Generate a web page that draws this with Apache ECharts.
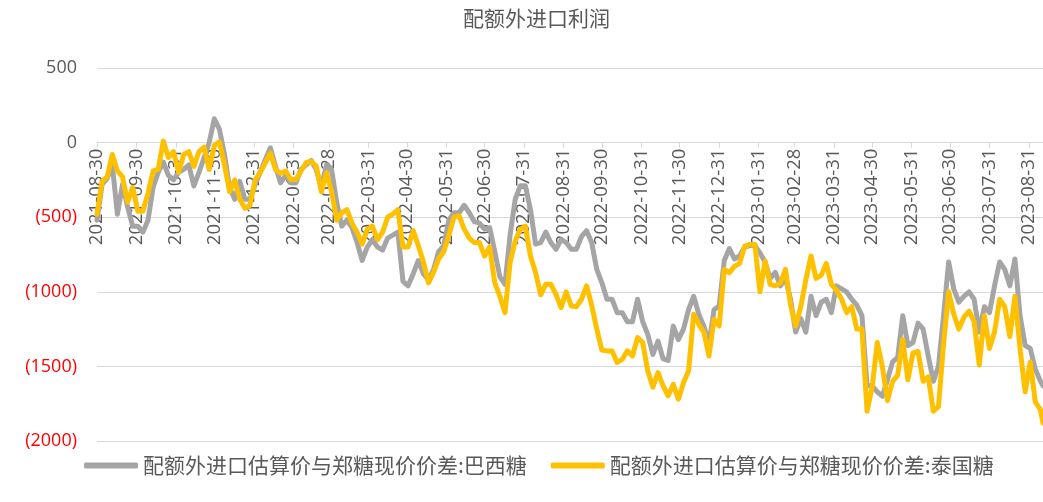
<!DOCTYPE html>
<html>
<head>
<meta charset="utf-8">
<script src="https://cdn.jsdelivr.net/npm/echarts@6/dist/echarts.min.js"></script>
<style>
  html, body { margin: 0; padding: 0; background: #ffffff; }
  #chart { width: 1043px; height: 502px; }
</style>
</head>
<body>
<div id="chart"></div>
<script>
// Sample dates (every 4 days) shared by both series
const dates = [
  '2021-08-30','2021-09-03','2021-09-07','2021-09-11','2021-09-15','2021-09-19','2021-09-23','2021-09-27','2021-10-01','2021-10-05',
  '2021-10-09','2021-10-13','2021-10-17','2021-10-21','2021-10-25','2021-10-29','2021-11-02','2021-11-06','2021-11-10','2021-11-14',
  '2021-11-18','2021-11-22','2021-11-26','2021-11-30','2021-12-04','2021-12-08','2021-12-12','2021-12-16','2021-12-20','2021-12-24',
  '2021-12-28',
  '2022-01-01','2022-01-05','2022-01-09','2022-01-13','2022-01-17','2022-01-21','2022-01-25','2022-01-29','2022-02-02','2022-02-06',
  '2022-02-10','2022-02-14','2022-02-18','2022-02-22','2022-02-26','2022-03-02','2022-03-06','2022-03-10','2022-03-14','2022-03-18',
  '2022-03-22','2022-03-26','2022-03-30','2022-04-03','2022-04-07','2022-04-11','2022-04-15','2022-04-19','2022-04-23','2022-04-27',
  '2022-05-01','2022-05-05','2022-05-09','2022-05-13','2022-05-17','2022-05-21','2022-05-25','2022-05-29','2022-06-02','2022-06-06',
  '2022-06-10','2022-06-14','2022-06-18','2022-06-22','2022-06-26','2022-06-30','2022-07-04','2022-07-08','2022-07-12','2022-07-16',
  '2022-07-20','2022-07-24','2022-07-28','2022-08-01','2022-08-05','2022-08-09','2022-08-13','2022-08-17','2022-08-21','2022-08-25',
  '2022-08-29','2022-09-02','2022-09-06','2022-09-10','2022-09-14','2022-09-18','2022-09-22','2022-09-26','2022-09-30','2022-10-04',
  '2022-10-08','2022-10-12','2022-10-16','2022-10-20','2022-10-24','2022-10-28','2022-11-01','2022-11-05','2022-11-09','2022-11-13',
  '2022-11-17','2022-11-21','2022-11-25','2022-11-29','2022-12-03','2022-12-07','2022-12-11','2022-12-15','2022-12-19','2022-12-23',
  '2022-12-27','2022-12-31',
  '2023-01-04','2023-01-08','2023-01-12','2023-01-16','2023-01-20','2023-01-24','2023-01-28','2023-02-01','2023-02-05','2023-02-09',
  '2023-02-13','2023-02-17','2023-02-21','2023-02-25','2023-03-01','2023-03-05','2023-03-09','2023-03-13','2023-03-17','2023-03-21',
  '2023-03-25','2023-03-29','2023-04-02','2023-04-06','2023-04-10','2023-04-14','2023-04-18','2023-04-22','2023-04-26','2023-04-30',
  '2023-05-04','2023-05-08','2023-05-12','2023-05-16','2023-05-20','2023-05-24','2023-05-28','2023-06-01','2023-06-05','2023-06-09',
  '2023-06-13','2023-06-17','2023-06-21','2023-06-25','2023-06-29','2023-07-03','2023-07-07','2023-07-11','2023-07-15','2023-07-19',
  '2023-07-23','2023-07-27','2023-07-31','2023-08-04','2023-08-08','2023-08-12','2023-08-16','2023-08-20','2023-08-24','2023-08-28',
  '2023-09-01','2023-09-05','2023-09-09','2023-09-11'
];

// 配额外进口估算价与郑糖现价价差:巴西糖
const brazil = [
  -520, -280, -240, -150, -480, -280, -430, -560, -560, -600,
  -520, -300, -200, -130, -220, -250, -200, -180, -150, -290,
  -200, -100, 0, 160, 90, -80, -300, -380, -260, -380,
  -380,
  -280, -200, -115, -35, -160, -270, -220, -270, -270, -180,
  -150, -120, -180, -300, -150, -180, -400, -560, -520, -570,
  -670, -790, -700, -650, -700, -720, -640, -620, -600, -930,
  -960, -880, -790, -880, -920, -850, -730, -690, -520, -470,
  -470, -420, -470, -530, -540, -580, -570, -730, -900, -950,
  -620, -380, -290, -290, -450, -680, -670, -600, -670, -715,
  -650, -670, -715, -715, -630, -590, -670, -850, -940, -1050,
  -1050, -1140, -1140, -1200, -1200, -1050, -1200, -1285, -1420, -1330,
  -1450, -1460, -1230, -1320, -1250, -1120, -1030, -1150, -1230, -1350,
  -1120, -1095,
  -790, -710, -780, -760, -700, -690, -690, -740, -800, -910,
  -870, -960, -910, -1050, -1270, -1180, -1270, -1030, -1160, -1070,
  -1050, -1140, -960, -980, -1000, -1050, -1090, -1160, -1630, -1630,
  -1670, -1700, -1590, -1470, -1440, -1160, -1360, -1340, -1210, -1250,
  -1430, -1600, -1500, -1160, -800, -980, -1070, -1030, -1000, -1050,
  -1270, -1100, -1140, -960, -800, -850, -960, -780, -1160, -1360,
  -1380, -1520, -1600, -1630
];

// 配额外进口估算价与郑糖现价价差:泰国糖
const thailand = [
  -480, -260, -230, -80, -190, -230, -400, -300, -460, -460,
  -340, -190, -180, 10, -100, -60, -200, -80, -60, -160,
  -60, -30, -180, -20, 5, -150, -330, -250, -380, -440,
  -420,
  -250, -200, -135, -70, -180, -205, -190, -247, -247, -190,
  -135, -125, -158, -330, -200, -330, -520, -470, -450, -540,
  -600, -680, -580, -560, -650, -600, -500, -480, -450, -700,
  -700, -590, -690, -800, -940, -870, -780, -730, -620, -500,
  -490, -580, -640, -670, -670, -760, -700, -940, -1030, -1140,
  -805, -660, -582, -560, -760, -870, -1020, -950, -950, -1017,
  -1106, -1000, -1095, -1100, -1050, -960, -1090, -1250, -1390, -1396,
  -1396, -1474, -1452, -1396, -1430, -1307, -1340, -1530, -1640, -1541,
  -1630, -1697, -1620, -1720, -1610, -1530, -1150, -1218, -1270, -1430,
  -1185, -1229,
  -850, -872, -830, -810, -694, -683, -683, -1000, -794, -950,
  -960, -940, -850, -1090, -1230, -1100, -920, -760, -910, -890,
  -810, -950, -990, -1050, -1140, -1100, -1250, -1250, -1800, -1640,
  -1340, -1500, -1730, -1600, -1560, -1320, -1590, -1410, -1400, -1600,
  -1570, -1800, -1770, -1350, -1000, -1150, -1250, -1170, -1130, -1200,
  -1490, -1160, -1380, -1270, -1050, -1100, -1300, -1030, -1380, -1670,
  -1470, -1740, -1790, -1880
];

// Month-end dates that carry the x-axis ticks and labels
const tickDates = [
  '2021-08-30','2021-09-30','2021-10-31','2021-11-30','2021-12-31',
  '2022-01-31','2022-02-28','2022-03-31','2022-04-30','2022-05-31','2022-06-30',
  '2022-07-31','2022-08-31','2022-09-30','2022-10-31','2022-11-30','2022-12-31',
  '2023-01-31','2023-02-28','2023-03-31','2023-04-30','2023-05-31','2023-06-30',
  '2023-07-31','2023-08-31'
];

const seriesNames = ['配额外进口估算价与郑糖现价价差:巴西糖', '配额外进口估算价与郑糖现价价差:泰国糖'];
const titleText = '配额外进口利润';

// Dates are placed on a numeric axis as day counts, so month-end ticks can sit at exact dates
const DAY = 86400000;
function toDay(s) {
  const p = s.split('-').map(Number);
  return Math.round(Date.UTC(p[0], p[1] - 1, p[2]) / DAY);
}
function pad(n) { return n < 10 ? '0' + n : '' + n; }
function fmtDay(v) {
  const d = new Date(Math.round(v) * DAY);
  return d.getUTCFullYear() + '-' + pad(d.getUTCMonth() + 1) + '-' + pad(d.getUTCDate());
}

const days = dates.map(toDay);
const tickDays = tickDates.map(toDay);
const numFont = 'Open Sans';
const cjkFont = 'Noto Sans CJK SC';
const textColor = '#595959';
const gridColor = '#d9d9d9';

// Plot box and value range; the date axis is lifted from the bottom edge to the zero line
const gridBox = { left: 97, right: 0, top: 68, bottom: 61 };
const yMin = -2000, yMax = 500;
const chartHeight = 502;
const plotHeight = chartHeight - gridBox.top - gridBox.bottom;
const zeroLift = -plotHeight * (0 - yMin) / (yMax - yMin);

const chart = echarts.init(document.getElementById('chart'));
chart.setOption({
  animation: false,
  backgroundColor: '#ffffff',
  title: {
    text: titleText,
    left: 458,
    top: 3,
    textStyle: { fontFamily: cjkFont, fontSize: 21, fontWeight: 'normal', color: textColor }
  },
  legend: {
    left: 79,
    top: 450,
    itemWidth: 54,
    itemHeight: 6,
    itemGap: 24,
    icon: 'roundRect',
    textStyle: { fontFamily: cjkFont, fontSize: 21, color: textColor },
    data: seriesNames
  },
  grid: Object.assign({ outerBoundsMode: 'none', containLabel: false }, gridBox),
  xAxis: {
    type: 'value',
    position: 'bottom',
    offset: zeroLift,
    min: toDay('2021-08-30'),
    max: toDay('2023-09-11'),
    axisLine: { onZero: false, lineStyle: { color: gridColor, width: 1 } },
    axisTick: { show: true, length: 5, customValues: tickDays, lineStyle: { color: gridColor } },
    axisLabel: {
      customValues: tickDays,
      rotate: 90,
      margin: 6,
      fontFamily: numFont,
      fontSize: 18.5,
      color: textColor,
      formatter: function (v) { return fmtDay(v); }
    },
    splitLine: { show: false }
  },
  yAxis: {
    type: 'value',
    min: yMin,
    max: yMax,
    interval: 500,
    axisLine: { show: false, onZero: false },
    axisTick: { show: false },
    splitLine: { lineStyle: { color: gridColor, width: 1 } },
    axisLabel: {
      margin: 20,
      fontFamily: numFont,
      fontSize: 18,
      color: textColor,
      formatter: function (v) {
        return v < 0 ? '{neg|(' + (-v) + ')}' : '{pos|' + v + '}';
      },
      rich: {
        neg: { color: '#ff0000', fontFamily: numFont, fontSize: 18 },
        pos: { color: textColor, fontFamily: numFont, fontSize: 18 }
      }
    }
  },
  series: [
    {
      name: seriesNames[0],
      type: 'line',
      showSymbol: false,
      color: '#a5a5a5',
      lineStyle: { width: 5, color: '#a5a5a5', cap: 'round', join: 'round' },
      data: days.map((t, i) => [t, brazil[i]])
    },
    {
      name: seriesNames[1],
      type: 'line',
      showSymbol: false,
      color: '#ffc000',
      lineStyle: { width: 5, color: '#ffc000', cap: 'round', join: 'round' },
      data: days.map((t, i) => [t, thailand[i]])
    }
  ]
});
</script>
</body>
</html>
